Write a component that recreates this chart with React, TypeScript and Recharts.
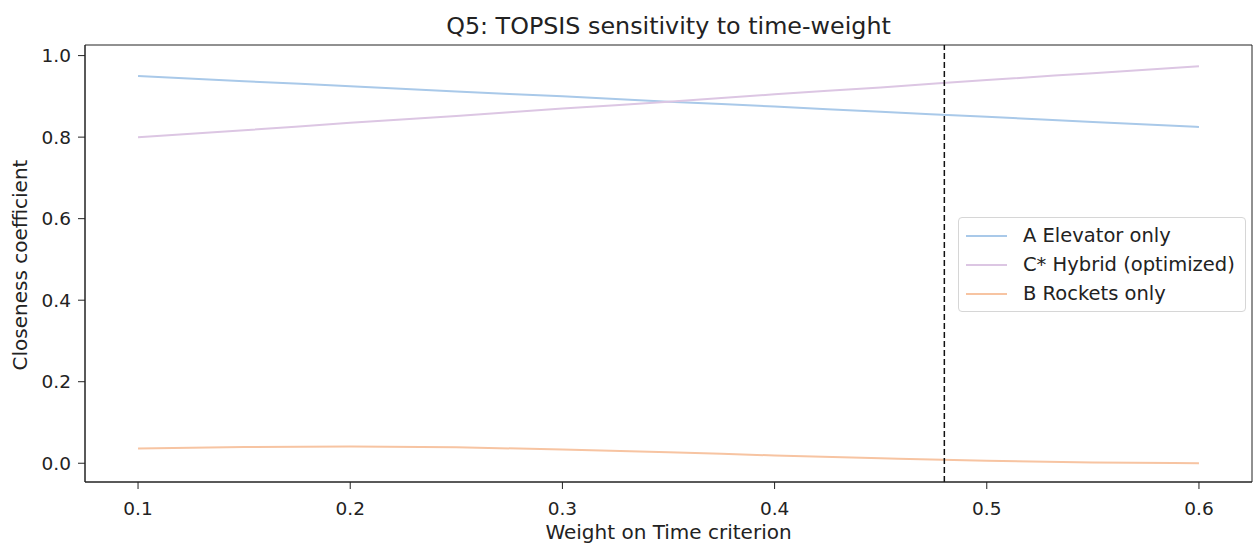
import React from "react";
import {
  LineChart,
  Line,
  XAxis,
  YAxis,
  ReferenceLine,
  ReferenceArea,
} from "recharts";

const weights = [0.1, 0.15, 0.2, 0.25, 0.3, 0.35, 0.4, 0.45, 0.5, 0.55, 0.6];
const elevatorOnly = [0.95, 0.937, 0.925, 0.912, 0.9, 0.887, 0.875, 0.862, 0.85, 0.837, 0.825];
const hybridOpt = [0.8, 0.817, 0.835, 0.852, 0.87, 0.887, 0.905, 0.922, 0.94, 0.957, 0.974];
const rocketsOnly = [0.036, 0.04, 0.041, 0.039, 0.034, 0.027, 0.019, 0.012, 0.006, 0.002, 0.0];

const xTicks = [0.1, 0.2, 0.3, 0.4, 0.5, 0.6];
const yTicks = [0, 0.2, 0.4, 0.6, 0.8, 1.0];
const chosenWeight = 0.48;

const SERIES = [
  { key: "A", name: "A Elevator only", color: "#a9c9e9" },
  { key: "C", name: "C* Hybrid (optimized)", color: "#dcc6e3" },
  { key: "B", name: "B Rockets only", color: "#f7c4a2" },
];

const data = weights.map((w, i) => ({
  w,
  A: elevatorOnly[i],
  C: hybridOpt[i],
  B: rocketsOnly[i],
}));

const FONT = "'DejaVu Sans', sans-serif";
const tickStyle = { fontSize: 18.5, fill: "#222", fontFamily: FONT };

function LegendBox() {
  return (
    <div
      style={{
        position: "absolute",
        left: 958,
        top: 217,
        border: "1px solid #d6d6d6",
        borderRadius: 4,
        background: "rgba(255,255,255,0.85)",
        padding: "3px 10px 3px 7px",
        fontFamily: FONT,
        fontSize: 19.5,
        color: "#222",
        lineHeight: "29px",
      }}
    >
      {SERIES.map((s) => (
        <div key={s.key} style={{ display: "flex", alignItems: "center", whiteSpace: "nowrap" }}>
          <span
            style={{
              display: "inline-block",
              width: 41,
              height: 2,
              background: s.color,
              marginRight: 16,
            }}
          />
          {s.name}
        </div>
      ))}
    </div>
  );
}

export default function App() {
  return (
    <div
      style={{
        position: "absolute",
        left: 0,
        top: 0,
        width: 1254,
        height: 543,
        background: "#fff",
        fontFamily: FONT,
      }}
    >
      <LineChart
        width={1254}
        height={543}
        data={data}
        margin={{ top: 45, right: 2, bottom: 31, left: 25 }}
        style={{ position: "absolute", left: 0, top: 0 }}
      >
        <XAxis
          dataKey="w"
          type="number"
          domain={[0.075, 0.625]}
          ticks={xTicks}
          allowDataOverflow
          height={30}
          tick={tickStyle}
          tickSize={7}
          tickMargin={13}
          stroke="#222"
          tickFormatter={(v) => v.toFixed(1)}
        />
        <YAxis
          type="number"
          domain={[-0.046, 1.026]}
          ticks={yTicks}
          allowDataOverflow
          width={60}
          tick={tickStyle}
          tickSize={7}
          tickMargin={7}
          stroke="#222"
          tickFormatter={(v) => v.toFixed(1)}
        />
        <ReferenceArea
          x1={0.075}
          x2={0.625}
          y1={-0.046}
          y2={1.026}
          fill="none"
          stroke="#222"
          strokeWidth={1}
        />
        {SERIES.map((s) => (
          <Line
            key={s.key}
            dataKey={s.key}
            name={s.name}
            type="monotone"
            stroke={s.color}
            strokeWidth={2}
            dot={false}
            isAnimationActive={false}
          />
        ))}
        <ReferenceLine
          x={chosenWeight}
          stroke="#111"
          strokeWidth={1.5}
          strokeDasharray="6 3"
        />
      </LineChart>
      <LegendBox />
      <div
        style={{
          position: "absolute",
          left: 85,
          width: 1167,
          top: 12,
          textAlign: "center",
          fontSize: 23.8,
          color: "#222",
          whiteSpace: "nowrap",
        }}
      >
        Q5: TOPSIS sensitivity to time-weight
      </div>
      <div
        style={{
          position: "absolute",
          left: 85,
          width: 1167,
          top: 520,
          textAlign: "center",
          fontSize: 20,
          color: "#222",
          whiteSpace: "nowrap",
        }}
      >
        Weight on Time criterion
      </div>
      <div
        style={{
          position: "absolute",
          left: 20,
          top: 265,
          transform: "translate(-50%, -50%) rotate(-90deg)",
          whiteSpace: "nowrap",
          fontSize: 20,
          color: "#222",
        }}
      >
        Closeness coefficient
      </div>
    </div>
  );
}
